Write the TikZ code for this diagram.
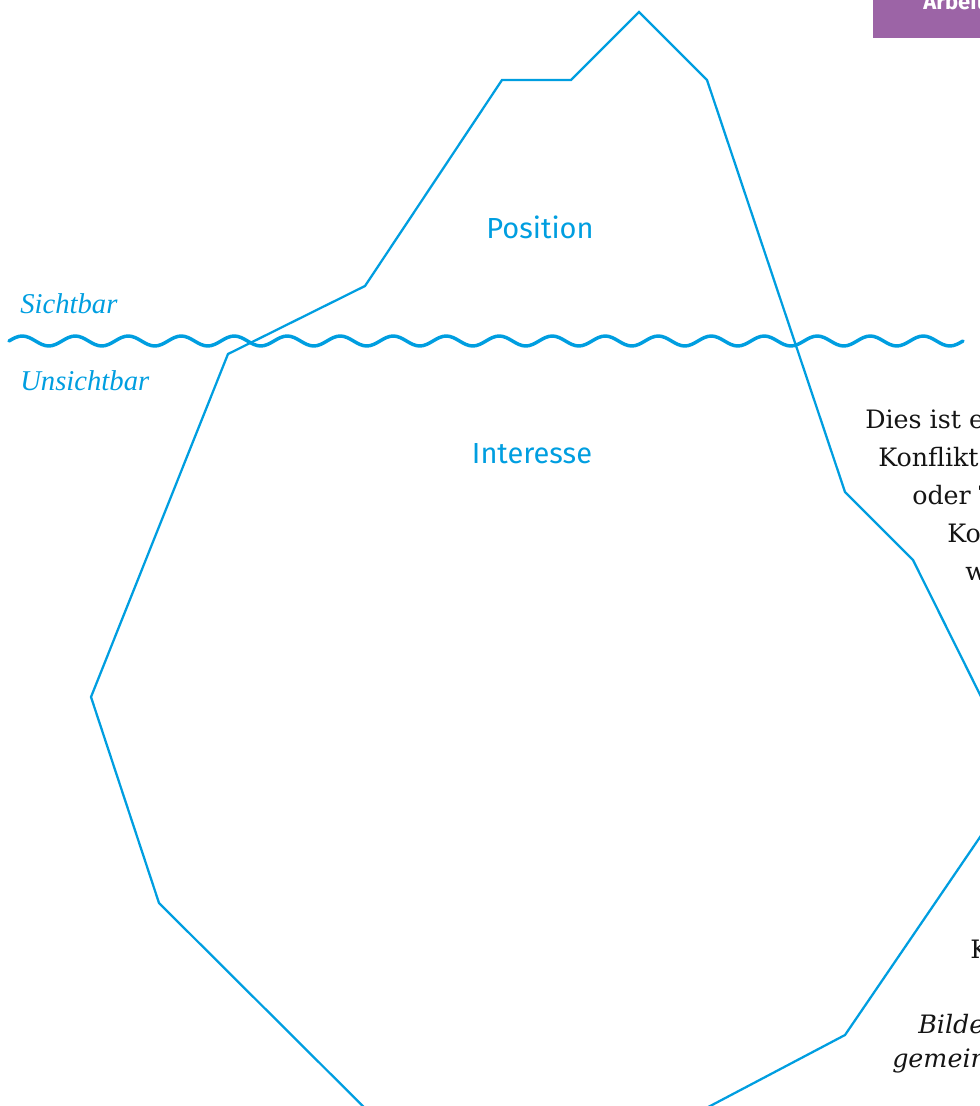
\documentclass[tikz,border=0pt]{standalone}
\usepackage{fontspec}
\setmainfont{DejaVu Serif}
\newfontfamily\bergfont{Fira Sans}
\newfontfamily\waterfont{Liberation Serif}
\definecolor{bergblue}{RGB}{0,158,224}
\definecolor{tabpurple}{RGB}{156,100,166}
\definecolor{notegray}{RGB}{20,20,20}
\tikzset{
  berg/.style={draw=bergblue,line width=1.7pt},
  waterline/.style={draw=bergblue,line width=2.6pt,line cap=round},
  layer/.style={text=bergblue,font=\bergfont\fontsize{21.75}{26}\selectfont,anchor=base,inner sep=0pt},
  level/.style={text=bergblue,font=\waterfont\itshape\fontsize{21.5}{26}\selectfont,anchor=base west,inner sep=0pt},
  note/.style={text=notegray,font=\fontsize{19}{28.5}\selectfont,anchor=base west,inner sep=0pt},
  noteit/.style={note,font=\itshape\fontsize{19}{28.5}\selectfont}
}
\begin{document}
\begin{tikzpicture}[x=0.75pt,y=-0.75pt]
\useasboundingbox (0,0) rectangle (980,1106);
\clip (0,0) rectangle (980,1106);
    \begin{scope}
% tab
\fill[tabpurple] (873,-5) rectangle (985,38);
\node[anchor=base west,inner sep=0pt,text=white,font=\bergfont\bfseries\fontsize{16.5}{20}\selectfont] (tab) at (923,10) {Arbeitsblatt};

% iceberg
\draw[berg] (420,1163) -- (159,903) -- (91,697) -- (228,354) -- (365,286)
  -- (502,80) -- (571,80) -- (639,12) -- (707,80) -- (845,492) -- (913,560)
  -- (1021,777) -- (845,1035) -- (600,1164);

% water line
\draw[waterline] (9,341)
  \foreach \k in {1,...,18} { sin ++(13.25,-5) cos ++(13.25,5) sin ++(13.25,5) cos ++(13.25,-5) };

\node[layer] (position) at (540,238) {Position};
\node[layer] (interesse) at (532,463) {Interesse};
\node[level] (sichtbar) at (20,313) {Sichtbar};
\node[level] (unsichtbar) at (20,390) {Unsichtbar};

% text on the right
\node[note] (line1) at (865,428) {Dies ist e};
\node[note] (line2) at (878,466) {Konflikt};
\node[note] (line3) at (912,504) {oder T};
\node[note] (line4) at (947,542) {Ko};
\node[note] (line5) at (965,580) {w};
\node[note] (line6) at (970,958) {K};
\node[noteit] (line7) at (918,1033) {Bilde};
\node[noteit] (line8) at (892,1067) {gemein};
%\node at (540,700) {};
\end{scope}
 \end{tikzpicture}
\end{document}
